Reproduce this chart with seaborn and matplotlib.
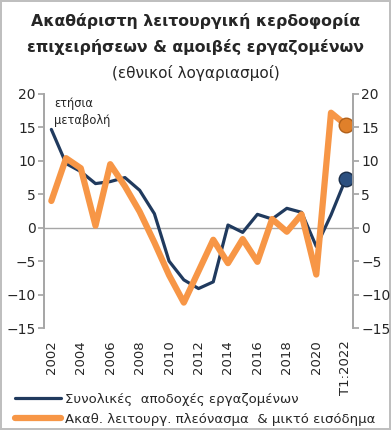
import pandas as pd
import seaborn as sns
import matplotlib.pyplot as plt

# ------------------ data ------------------
periods = [str(y) for y in range(2002, 2022)] + ['T1:2022']
wages = [14.7, 9.6, 8.4, 6.6, 6.9, 7.5, 5.6, 2.1, -5.0, -7.8,
         -9.1, -8.1, 0.4, -0.7, 2.0, 1.3, 2.9, 2.3, -2.8, 1.9, 7.3]
profits = [4.0, 10.4, 8.9, 0.3, 9.5, 6.2, 2.4, -2.2, -7.1, -11.2,
           -6.5, -1.8, -5.3, -1.7, -5.1, 1.3, -0.6, 2.0, -7.0, 17.2, 15.4]
wage_label = 'Συνολικές  αποδοχές εργαζομένων'
profit_label = 'Ακαθ. λειτουργ. πλεόνασμα  & μικτό εισόδημα'
shown_ticks = periods[::2]

df = pd.DataFrame({'period': periods, 'wages': wages, 'profits': profits})

navy = '#203A5E'
orange = '#F79646'
grey = '#A6A6A6'

sns.set_theme(style='white')
plt.rcParams['font.family'] = ['DejaVu Sans']

fig = plt.figure(figsize=(3.91, 4.30), dpi=100, edgecolor='#BFBFBF', linewidth=1.5)
ax = fig.add_axes([0.1125, 0.2372, 0.7905, 0.5442])

sns.lineplot(data=df, x='period', y='wages', sort=False, color=navy, lw=2.3,
             label=wage_label, ax=ax)
sns.lineplot(data=df, x='period', y='profits', sort=False, color=orange, lw=4.5,
             label=profit_label, ax=ax)

# end-of-series markers
last = df.iloc[[-1]]
sns.scatterplot(data=last, x='period', y='wages', s=110, color='#2C5080',
                edgecolor='#1A2E4A', linewidth=1, ax=ax, zorder=5, legend=False)
sns.scatterplot(data=last, x='period', y='profits', s=110, color='#E0802A',
                edgecolor='#B0601A', linewidth=1, ax=ax, zorder=5, legend=False)

ax.axhline(0, color=grey, lw=1, zorder=0)
ax.set_xlim(-0.5, len(periods) - 0.5)
ax.set_ylim(-15, 20)
ax.set_yticks(range(-15, 21, 5))
ax.set_xticks(shown_ticks)
ax.set_xticklabels(shown_ticks, rotation=90)
ax.set_xlabel('')
ax.set_ylabel('')
ax.tick_params(axis='y', left=True, length=4, color=grey, labelsize=10, pad=2)
ax.tick_params(axis='x', bottom=False, labelsize=9.5, pad=3)

ax2 = ax.twinx()
ax2.set_ylim(-15, 20)
ax2.set_yticks(range(-15, 21, 5))
ax2.tick_params(axis='y', right=True, length=4, color=grey, labelsize=10, pad=2)

for a in (ax, ax2):
    for side in ('top', 'bottom'):
        a.spines[side].set_visible(False)
    a.spines['left'].set_color(grey)
    a.spines['right'].set_color(grey)

ax.text(0.2, 19.5, 'ετήσια\nμεταβολή', fontsize=8.3, va='top', ha='left',
        linespacing=1.4)

fig.text(0.5, 0.951, 'Ακαθάριστη λειτουργική κερδοφορία', ha='center', va='center',
         fontsize=11.3, fontweight='bold')
fig.text(0.5, 0.891, 'επιχειρήσεων & αμοιβές εργαζομένων', ha='center', va='center',
         fontsize=11.3, fontweight='bold')
fig.text(0.5, 0.830, '(εθνικοί λογαριασμοί)', ha='center', va='center', fontsize=11)

ax.legend(loc='upper left', bbox_to_anchor=(-0.11, -0.255), frameon=False,
          fontsize=9.5, handlelength=3.5, handletextpad=0.3, labelspacing=0.5,
          borderaxespad=0)

fig.savefig('out.png', dpi=100, edgecolor=fig.get_edgecolor())
